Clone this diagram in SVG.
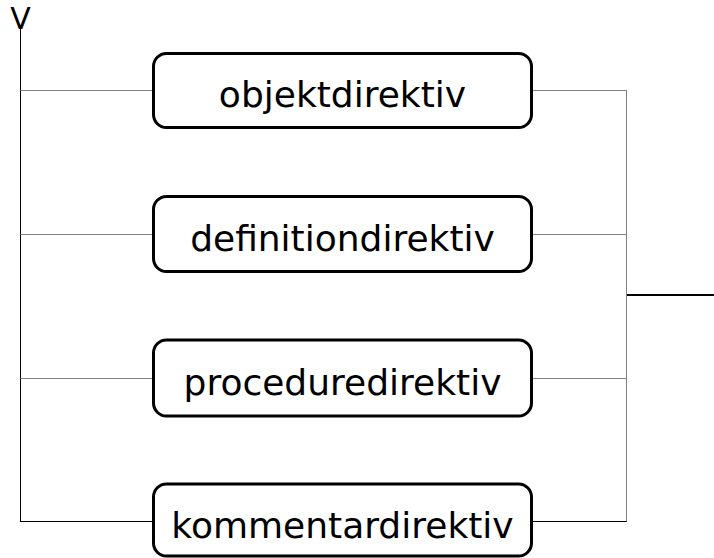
<svg xmlns="http://www.w3.org/2000/svg" width="714" height="558" viewBox="0 0 714 558">
<style>
.box{fill:#fff;stroke:#000;stroke-width:3}
.lbl{font-family:"DejaVu Sans",Verdana,sans-serif;font-size:36px;fill:#000;text-anchor:middle}
.g{stroke:#808080;stroke-width:1;fill:none}
.k{stroke:#000;stroke-width:1;fill:none}
</style>
<rect width="714" height="558" fill="#fff"/>
<text x="20.5" y="29" style="font-family:'DejaVu Sans',sans-serif;font-size:30px;text-anchor:middle">V</text>
<g id="connectors">
<line class="k" x1="20.5" y1="29" x2="20.5" y2="521.5"/>
<line class="g" x1="20.5" y1="90.5" x2="153" y2="90.5"/>
<line class="g" x1="20.5" y1="234.5" x2="153" y2="234.5"/>
<line class="g" x1="20.5" y1="378.5" x2="153" y2="378.5"/>
<line class="k" x1="20" y1="521.5" x2="153" y2="521.5"/>
<line class="g" x1="533" y1="90.5" x2="626.5" y2="90.5"/>
<line class="g" x1="533" y1="234.5" x2="626.5" y2="234.5"/>
<line class="g" x1="533" y1="378.5" x2="626.5" y2="378.5"/>
<line class="k" x1="533" y1="521.5" x2="627" y2="521.5"/>
<line class="g" x1="626.5" y1="90" x2="626.5" y2="521.5"/>
<line x1="627" y1="295" x2="714" y2="295" stroke="#000" stroke-width="2"/>
</g>
<g id="objektdirektiv">
<rect class="box" x="153.5" y="53.5" width="378" height="74" rx="13"/>
<text class="lbl" x="342.5" y="107">objektdirektiv</text>
</g>
<g id="definitiondirektiv">
<rect class="box" x="153.5" y="196.5" width="378" height="75" rx="13"/>
<text class="lbl" x="342.5" y="251">definitiondirektiv</text>
</g>
<g id="proceduredirektiv">
<rect class="box" x="153.5" y="340" width="378" height="76" rx="13"/>
<text class="lbl" x="342.5" y="395">proceduredirektiv</text>
</g>
<g id="kommentardirektiv">
<rect class="box" x="153.5" y="484" width="378" height="72" rx="13"/>
<text class="lbl" x="342.5" y="538">kommentardirektiv</text>
</g>
</svg>
